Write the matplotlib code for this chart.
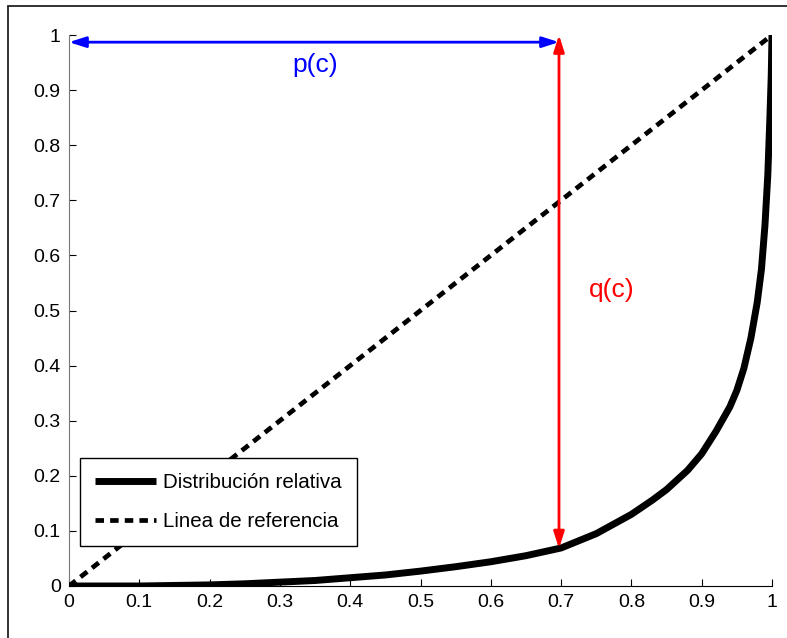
import matplotlib
matplotlib.use("Agg")
import matplotlib.pyplot as plt
from matplotlib.patches import Rectangle

plt.rcParams["font.family"] = ["Liberation Sans", "DejaVu Sans"]

# relative distribution curve
dist_x = [0.0, 0.1, 0.15, 0.2, 0.25, 0.3, 0.35, 0.4, 0.45, 0.5, 0.55, 0.6, 0.65,
          0.7, 0.75, 0.8, 0.83, 0.85, 0.88, 0.9, 0.92, 0.94, 0.95, 0.96, 0.97,
          0.979, 0.985, 0.99, 0.994, 0.997, 0.999, 1.0]
dist_y = [0.0, 0.0, 0.001, 0.002, 0.004, 0.007, 0.010, 0.015, 0.020, 0.027,
          0.035, 0.044, 0.055, 0.069, 0.095, 0.13, 0.156, 0.175, 0.21, 0.24,
          0.28, 0.325, 0.355, 0.395, 0.45, 0.515, 0.575, 0.655, 0.745, 0.85,
          0.93, 1.0]

# reference line
ref_x = [0.0, 1.0]
ref_y = [0.0, 1.0]

c_value = 0.697
p_level = 0.987
q_low = 0.068
q_high = 1.0

x_ticks = [0, 0.1, 0.2, 0.3, 0.4, 0.5, 0.6, 0.7, 0.8, 0.9, 1]
y_ticks = [0, 0.1, 0.2, 0.3, 0.4, 0.5, 0.6, 0.7, 0.8, 0.9, 1]
tick_labels = ["0", "0.1", "0.2", "0.3", "0.4", "0.5", "0.6", "0.7", "0.8", "0.9", "1"]

fig = plt.figure(figsize=(7.87, 6.38), dpi=100)
ax = fig.add_axes([69 / 787, 1 - 586 / 638, 703 / 787, 551 / 638])

# outer frame (only top and left edges visible)
fig.patches.append(Rectangle((8 / 787, -0.2), 1.3, 0.2 + (1 - 6 / 638),
                             transform=fig.transFigure, fill=False,
                             edgecolor="#222222", linewidth=1.3))

ax.plot(dist_x, dist_y, color="black", linewidth=5.0, solid_capstyle="butt",
        solid_joinstyle="round", label="Distribución relativa", zorder=3)
ax.plot(ref_x, ref_y, color="black", linewidth=3.4, dashes=(1.8, 1.3),
        dash_capstyle="butt", label="Linea de referencia", zorder=3)

ax.annotate("", xy=(0.0, p_level), xytext=(c_value, p_level),
            arrowprops=dict(arrowstyle="<|-|>,head_length=1.0,head_width=0.32",
                            color="blue", lw=2.0, shrinkA=0, shrinkB=0),
            zorder=4)
ax.annotate("", xy=(c_value, q_high), xytext=(c_value, q_low),
            arrowprops=dict(arrowstyle="<|-|>,head_length=1.0,head_width=0.32",
                            color="red", lw=2.0, shrinkA=0, shrinkB=0),
            zorder=4)
ax.text(0.35, 0.945, "p(c)", color="blue", fontsize=19, ha="center", va="center")
ax.text(0.772, 0.537, "q(c)", color="red", fontsize=19, ha="center", va="center")

ax.set_xlim(0, 1)
ax.set_ylim(0, 1)
ax.set_xticks(x_ticks)
ax.set_xticklabels(tick_labels)
ax.set_yticks(y_ticks)
ax.set_yticklabels(tick_labels)
ax.tick_params(direction="in", length=5, width=0.8, labelsize=14, pad=6)
ax.spines["top"].set_visible(False)
ax.spines["right"].set_visible(False)
ax.spines["left"].set_color("#777777")
ax.spines["bottom"].set_color("black")

leg = ax.legend(loc="lower left", bbox_to_anchor=(0.016, 0.073), fontsize=14.8,
                frameon=True, fancybox=False, framealpha=1.0, handlelength=3.0,
                handletextpad=0.35, labelspacing=1.0, borderpad=0.7,
                borderaxespad=0)
leg.get_frame().set_edgecolor("black")
leg.get_frame().set_linewidth(1.0)
leg.set_zorder(5)

fig.savefig("out.png", dpi=100)
